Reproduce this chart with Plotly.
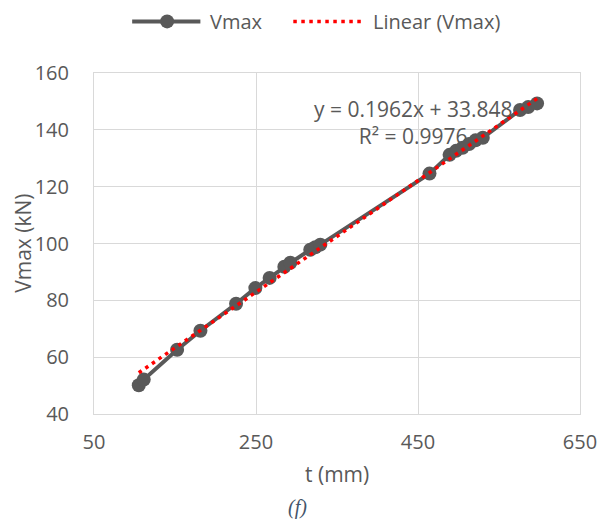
import plotly.graph_objects as go

# ---- data ----
t_mm = [105.3, 111.4, 152.6, 181.4, 225.4, 249.2, 266.8, 285.0, 292.4, 317.0, 323.2,
        329.4, 464.2, 489.0, 497.0, 505.0, 513.0, 521.0, 530.0, 576.0, 586.0, 597.0]
vmax_kN = [50.1, 52.1, 62.6, 69.3, 78.8, 84.3, 87.9, 91.8, 93.2, 97.8, 98.7,
           99.6, 124.6, 131.2, 132.6, 133.7, 135.0, 136.3, 137.2, 147.0, 148.0, 149.3]
trend_slope = 0.1962
trend_intercept = 33.848
trend_r2 = 0.9976
x_ticks = [50, 250, 450, 650]
y_ticks = [40, 60, 80, 100, 120, 140, 160]

GRAY = "#595959"
GRID = "#d9d9d9"
FONT = "Open Sans"

trend_x = [min(t_mm), max(t_mm)]
trend_y = [trend_slope * v + trend_intercept for v in trend_x]

fig = go.Figure()
fig.add_trace(go.Scatter(
    x=t_mm, y=vmax_kN, mode="lines+markers", name="Vmax",
    line=dict(color=GRAY, width=4),
    marker=dict(color=GRAY, size=14, line=dict(width=0)),
    showlegend=False,
))
fig.add_trace(go.Scatter(
    x=trend_x, y=trend_y, mode="lines", name="Linear (Vmax)",
    line=dict(color="#ff0000", width=3.5, dash="3.5px,4.5px"),
    showlegend=False,
))

# page has an 8px body margin: figure is sized / positioned to compensate
OFF = 8
W, H = 609 - OFF, 523 - OFF
L, T = 93.5 - OFF, 73.3 - OFF
R = W - (580 - OFF)
B = H - (414.3 - OFF)
pw, ph = W - L - R, H - T - B


def px(xp):
    """page x pixel -> paper fraction"""
    return (xp - OFF - L) / pw


def py(yp):
    """page y pixel -> paper fraction"""
    return (H - B - (yp - OFF)) / ph


legend_y = py(21.7)
shapes = [
    dict(type="line", xref="paper", yref="paper", x0=px(131.7), x1=px(200),
         y0=legend_y, y1=legend_y, line=dict(color=GRAY, width=4)),
    dict(type="circle", xref="paper", yref="paper", xsizemode="pixel", ysizemode="pixel",
         xanchor=px(166.7), yanchor=legend_y, x0=-7, x1=7, y0=-7, y1=7,
         fillcolor=GRAY, line=dict(width=0)),
    dict(type="line", xref="paper", yref="paper", x0=px(293), x1=px(363),
         y0=legend_y, y1=legend_y, line=dict(color="#ff0000", width=3.5, dash="3.5px,4.5px")),
]

txt = dict(family=FONT, size=20, color=GRAY)
annotations = [
    dict(text="Vmax", x=px(208), y=legend_y, xref="paper", yref="paper",
         xanchor="left", yanchor="middle", showarrow=False, font=txt),
    dict(text="Linear (Vmax)", x=px(371), y=legend_y, xref="paper", yref="paper",
         xanchor="left", yanchor="middle", showarrow=False, font=txt),
    dict(text=f"y = {trend_slope}x + {trend_intercept}<br>R² = {trend_r2}",
         x=px(413), y=py(123), xref="paper", yref="paper", xanchor="center",
         yanchor="middle", showarrow=False, align="center",
         font=dict(family=FONT, size=21, color=GRAY)),
    dict(text="Vmax (kN)", x=px(21.7), y=0.5, xref="paper", yref="paper",
         xanchor="center", yanchor="middle", textangle=-90, showarrow=False,
         font=dict(family=FONT, size=21, color=GRAY)),
    dict(text="t (mm)", x=0.5, y=py(474), xref="paper", yref="paper",
         xanchor="center", yanchor="middle", showarrow=False,
         font=dict(family=FONT, size=21, color=GRAY)),
    dict(text="<i>(f)</i>", x=px(297), y=py(508), xref="paper", yref="paper",
         xanchor="center", yanchor="middle", showarrow=False,
         font=dict(family="Liberation Serif", size=20, color="#44546a")),
]

fig.update_layout(
    width=W, height=H,
    margin=dict(l=L, r=R, t=T, b=B, pad=0),
    paper_bgcolor="white", plot_bgcolor="white",
    shapes=shapes, annotations=annotations,
    showlegend=False,
    xaxis=dict(range=[50, 650], tickvals=x_ticks, showgrid=True, gridcolor=GRID,
               gridwidth=1, showline=True, linecolor=GRID, linewidth=1, mirror=True,
               zeroline=False, ticks="", ticklabelstandoff=10,
               tickfont=dict(family=FONT, size=20, color=GRAY)),
    yaxis=dict(range=[40, 160], tickvals=y_ticks, showgrid=True, gridcolor=GRID,
               gridwidth=1, showline=True, linecolor=GRID, linewidth=1, mirror=True,
               zeroline=False, ticks="", ticklabelstandoff=20,
               tickfont=dict(family=FONT, size=20, color=GRAY)),
)

fig.write_html("out.html")
